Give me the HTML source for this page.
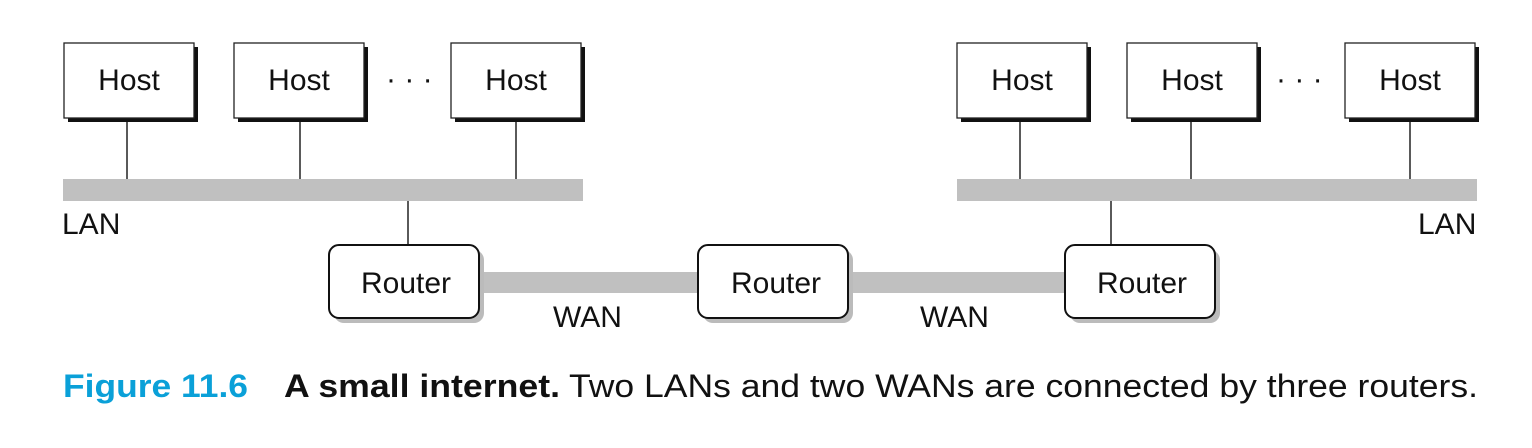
<!DOCTYPE html>
<html><head><style>
html,body{margin:0;padding:0;background:#fff;}
svg{display:block}
text{font-family:"Liberation Sans",sans-serif;fill:#111}
</style></head><body>
<svg width="1532" height="448" viewBox="0 0 1532 448" xmlns="http://www.w3.org/2000/svg">
<g fill="#c0c0c0">
<rect x="63" y="179" width="520" height="22"/>
<rect x="957" y="179" width="520" height="22"/>
<rect x="478" y="272" width="222" height="21"/>
<rect x="846" y="272" width="222" height="21"/>
</g>
<g stroke="#222" stroke-width="1.5">
<line x1="127" y1="117" x2="127" y2="179"/>
<line x1="300" y1="117" x2="300" y2="179"/>
<line x1="516" y1="117" x2="516" y2="179"/>
<line x1="408" y1="201" x2="408" y2="245"/>
<line x1="1020" y1="117" x2="1020" y2="179"/>
<line x1="1191" y1="117" x2="1191" y2="179"/>
<line x1="1410" y1="117" x2="1410" y2="179"/>
<line x1="1111" y1="201" x2="1111" y2="245"/>
</g>
<g>
<rect x="68" y="47" width="130" height="75" fill="#111"/>
<rect x="64" y="43" width="130" height="75" fill="#fff" stroke="#222" stroke-width="1.3"/>
<rect x="238" y="47" width="130" height="75" fill="#111"/>
<rect x="234" y="43" width="130" height="75" fill="#fff" stroke="#222" stroke-width="1.3"/>
<rect x="455" y="47" width="130" height="75" fill="#111"/>
<rect x="451" y="43" width="130" height="75" fill="#fff" stroke="#222" stroke-width="1.3"/>
<rect x="961" y="47" width="130" height="75" fill="#111"/>
<rect x="957" y="43" width="130" height="75" fill="#fff" stroke="#222" stroke-width="1.3"/>
<rect x="1131" y="47" width="130" height="75" fill="#111"/>
<rect x="1127" y="43" width="130" height="75" fill="#fff" stroke="#222" stroke-width="1.3"/>
<rect x="1349" y="47" width="130" height="75" fill="#111"/>
<rect x="1345" y="43" width="130" height="75" fill="#fff" stroke="#222" stroke-width="1.3"/>
</g>
<g font-size="30" text-anchor="middle">
<text x="129" y="90">Host</text>
<text x="299" y="90">Host</text>
<text x="516" y="90">Host</text>
<text x="1022" y="90">Host</text>
<text x="1192" y="90">Host</text>
<text x="1410" y="90">Host</text>
</g>
<g font-size="30"><text x="386" y="89">· · ·</text><text x="1276" y="89">· · ·</text></g>
<g>
<rect x="334" y="250" width="150" height="73" rx="10" fill="#bbb"/>
<rect x="329" y="245" width="150" height="73" rx="10" fill="#fff" stroke="#111" stroke-width="2"/>
<rect x="703" y="250" width="150" height="73" rx="10" fill="#bbb"/>
<rect x="698" y="245" width="150" height="73" rx="10" fill="#fff" stroke="#111" stroke-width="2"/>
<rect x="1070" y="250" width="150" height="73" rx="10" fill="#bbb"/>
<rect x="1065" y="245" width="150" height="73" rx="10" fill="#fff" stroke="#111" stroke-width="2"/>
</g>
<g font-size="30" text-anchor="middle">
<text x="406" y="293">Router</text>
<text x="776" y="293">Router</text>
<text x="1142" y="293">Router</text>
</g>
<g font-size="30">
<text x="62" y="234">LAN</text>
<text x="1418" y="234">LAN</text>
<text x="553" y="327">WAN</text>
<text x="920" y="327">WAN</text>
</g>
<g font-size="32" style="font-family:'DejaVu Sans','Liberation Sans',sans-serif">
<text x="63" y="397" fill="#0aa0d8" font-weight="bold" textLength="185" lengthAdjust="spacingAndGlyphs" style="fill:#0aa0d8">Figure 11.6</text>
<text x="284" y="397" font-weight="bold" textLength="276" lengthAdjust="spacingAndGlyphs">A small internet.</text>
<text x="569" y="397" textLength="909" lengthAdjust="spacingAndGlyphs">Two LANs and two WANs are connected by three routers.</text>
</g>
</svg>
</body></html>
